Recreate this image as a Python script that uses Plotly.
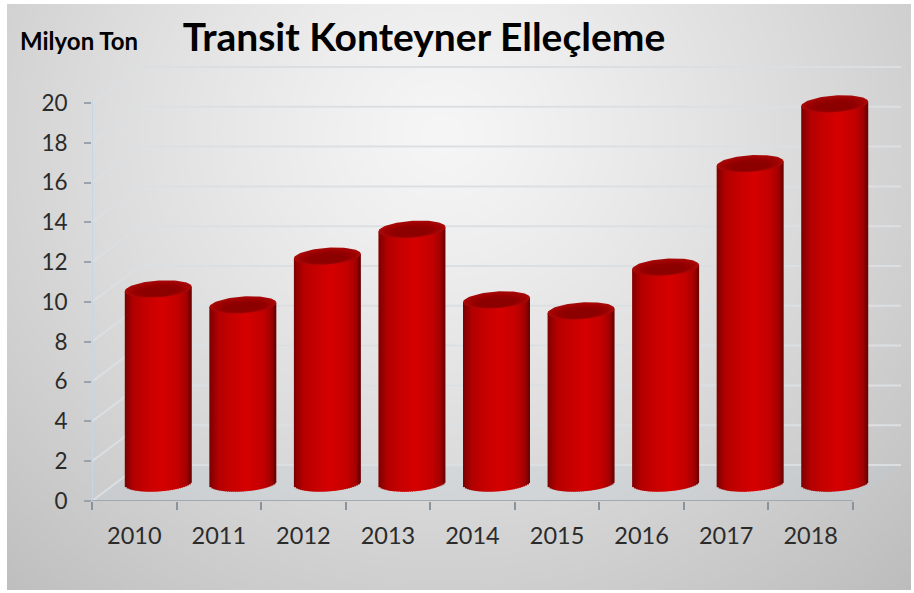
import base64, struct, zlib
import numpy as np
import plotly.graph_objects as go

# ---- data ----
years = ["2010", "2011", "2012", "2013", "2014", "2015", "2016", "2017", "2018"]
values = [9.75, 8.95, 11.4, 12.75, 9.2, 8.65, 10.85, 16.05, 19.05]
y_ticks = [0, 2, 4, 6, 8, 10, 12, 14, 16, 18, 20]
title_text = "Transit Konteyner Elleçleme"
unit_text = "Milyon Ton"

# ---- geometry of the pseudo-3D look ----
W, H = 914, 593
L, R, T, B = 92, 853, 103, 501
px_x = (R - L) / len(years)
px_y = (B - T) / 20.0
wall_dx = 48 / px_x          # depth of the chart box, in axis units
wall_dy = 36 / px_y
bar_half = 33.5 / px_x
ell_b = 8.4 / px_y
ell_tilt = 2.2 / px_y
x0, x1 = -0.5, len(years) - 0.5
top_y = 20 + (wall_dy + 0.05)          # plot area includes the back wall
plot_R = R + 48
plot_T = B - top_y * px_y


def background_png():
    yy, xx = np.mgrid[0:H // 2, 0:W // 2]
    xx = xx * 2.0
    yy = yy * 2.0
    r = np.sqrt(((xx - 440) / 560) ** 2 + ((yy - 130) / 520) ** 2)
    g = 246 - 45 * r ** 1.2
    g = np.clip(g, 0, 255).astype(np.uint8)
    raw = b"".join(b"\x00" + row.tobytes() for row in g)

    def chunk(tag, data):
        c = struct.pack(">I", len(data)) + tag + data
        return c + struct.pack(">I", zlib.crc32(tag + data) & 0xFFFFFFFF)

    png = b"\x89PNG\r\n\x1a\n"
    png += chunk(b"IHDR", struct.pack(">IIBBBBB", g.shape[1], g.shape[0], 8, 0, 0, 0, 0))
    png += chunk(b"IDAT", zlib.compress(raw, 9))
    png += chunk(b"IEND", b"")
    return "data:image/png;base64," + base64.b64encode(png).decode()


fig = go.Figure()
shapes = []


def seg(xa, ya, xb, yb, color, width=2):
    shapes.append(dict(type="line", xref="x", yref="y", layer="below", x0=xa, y0=ya, x1=xb, y1=yb,
                       line=dict(color=color, width=width)))


# floor
shapes.append(dict(type="path", xref="x", yref="y", layer="below", line=dict(width=0),
                   fillcolor="rgba(190,205,222,0.2)",
                   path=f"M {x0} 0 L {x0 + wall_dx} {wall_dy} L {x1 + wall_dx} {wall_dy} L {x1} 0 Z"))
# wall grid lines
for v in y_ticks:
    seg(x0, v, x0 + wall_dx, v + wall_dy, "#dcdfe2")
    seg(x0 + wall_dx, v + wall_dy, x1 + wall_dx, v + wall_dy, "#dcdfe2")
# axis lines
seg(x0, 0, x0, 20.15, "#c6d6e8")
seg(x0, 0, x1, 0, "#929ca6", 1.6)

# cylinders: one bar trace for each vertical strip, left to right
stops_pos = [0.0, 0.05, 0.14, 0.32, 0.55, 0.80, 0.92, 0.97, 1.0]
stops_r = [122, 146, 180, 198, 214, 196, 164, 128, 104]
n_strips = 34
edges = np.linspace(-1, 1, n_strips + 1)
mids = (edges[:-1] + edges[1:]) / 2
step = edges[1] - edges[0]
xs = np.arange(len(years))
vals = np.array(values)
for i, u in enumerate(mids):
    red = int(np.interp((u + 1) / 2, stops_pos, stops_r))
    lower = wall_dy / 2 + ell_tilt * u - ell_b * np.sqrt(1 - u * u)
    upper = vals + wall_dy / 2 + ell_tilt * u
    w = step * bar_half * (1.5 if i < n_strips - 1 else 1.0)
    fig.add_trace(go.Bar(x=xs, y=upper - lower, base=np.full(len(xs), lower),
                         width=w, offset=wall_dx / 2 + edges[i] * bar_half,
                         marker=dict(color=f"rgb({red},0,0)", line=dict(width=0)),
                         hoverinfo="skip", showlegend=False))

# cylinder tops
t = np.linspace(0, 2 * np.pi, 90)
layers = [(1.0, 0.0, "#a80a0a"), (0.93, -0.04, "#a30505"), (0.84, -0.1, "#9c0202"),
          (0.72, -0.18, "#940000"), (0.58, -0.26, "#8c0000")]
for scale, shift, colr in layers:
    ex, ey = [], []
    for k, v in enumerate(values):
        cu = np.cos(t) * scale
        ex += list(k + wall_dx / 2 + bar_half * cu) + [None]
        ey += list(v + wall_dy / 2 + ell_tilt * cu + ell_b * (np.sin(t) * scale + shift)) + [None]
    fig.add_trace(go.Scatter(x=ex, y=ey, mode="lines", fill="toself", fillcolor=colr,
                             line=dict(width=0), hoverinfo="skip", showlegend=False))

plot_w = plot_R - L
plot_h = B - plot_T
fig.update_layout(
    width=W, height=H, autosize=False,
    margin=dict(l=L, r=W - plot_R, t=plot_T, b=H - B),
    paper_bgcolor="white", plot_bgcolor="rgba(0,0,0,0)",
    barmode="overlay", showlegend=False, shapes=shapes,
    font=dict(family="Lato", color="#2b2b2b"),
    title=dict(text=title_text, x=424 / W, xanchor="center", y=1 - 37 / H, yanchor="middle",
               font=dict(family="Lato", size=39, color="black", weight="bold")),
    images=[dict(source=background_png(), xref="paper", yref="paper", layer="below",
                 x=(7 - L) / plot_w, y=1 + (plot_T - 4) / plot_h,
                 sizex=(W - 3 - 7) / plot_w, sizey=(590 - 4) / plot_h,
                 sizing="stretch", xanchor="left", yanchor="top")],
    annotations=[dict(text=unit_text, xref="paper", yref="paper", showarrow=False,
                      x=(18 - L) / plot_w, y=1 + (plot_T - 41) / plot_h,
                      xanchor="left", yanchor="middle",
                      font=dict(family="Lato", size=24, color="black", weight="bold"))],
    xaxis=dict(type="linear", range=[x0, x1 + wall_dx], tickmode="array", tickvals=list(xs),
               ticktext=years, ticks="", showgrid=False, zeroline=False, showline=False,
               ticklabelstandoff=18,
               tickfont=dict(family="Lato", size=23.5, color="#2b2b2b"),
               minor=dict(tickmode="array", tickvals=[x0 + i for i in range(len(years) + 1)],
                          ticks="outside", ticklen=8, tickwidth=2, tickcolor="#8a939c",
                          showgrid=False)),
    yaxis=dict(range=[0, top_y], tickmode="array", tickvals=y_ticks, ticks="outside", ticklen=7,
               tickwidth=1.5, tickcolor="#9aa3ab", showgrid=False, zeroline=False,
               showline=False, ticklabelstandoff=12,
               tickfont=dict(family="Lato", size=22.5, color="#2b2b2b")),
)

fig.write_html("out.html", config=dict(displayModeBar=False),
               post_script="document.body.style.margin='0';")
